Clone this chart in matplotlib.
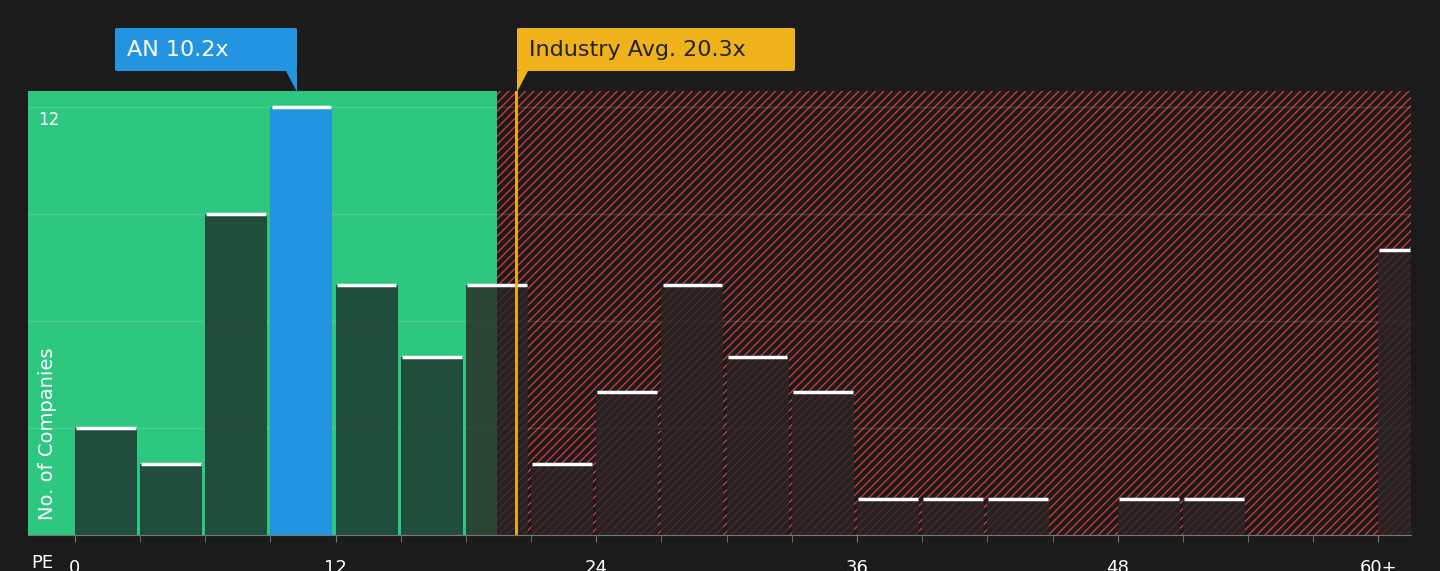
import matplotlib
matplotlib.use("Agg")
import matplotlib.pyplot as plt
from matplotlib.patches import FancyBboxPatch, Polygon

bin_starts = [0,3,6,9,12,15,18,21,24,27,30,33,36,39,42,45,48,51,54,57,60]
counts     = [3,2,9,12,7,5,7,2,4,7,5,4,1,1,1,0,1,1,0,0,8]
tick_vals = [0,12,24,36,48,60]
tick_labels = ["0","12","24","36","48","60+"]
company_pe = 10.2
industry_pe = 20.3
fair_edge = 19.45

BG = "#1b1b1b"
fig = plt.figure(figsize=(14.4,5.71), dpi=100, facecolor=BG)
ax = fig.add_axes([28/1440, 1-535/571, (1411-28)/1440, (535-91)/571])
ax.set_facecolor(BG)
xmin, xmax, ymax = -2.16, 61.5, 12.45
ax.set_xlim(xmin, xmax); ax.set_ylim(0, ymax)

ax.axvspan(xmin, fair_edge, color="#2ec77f", zorder=0)
ax.axvspan(fair_edge, xmax, facecolor=BG, edgecolor="#c9393e", hatch="////", linewidth=0, zorder=0)
for y in [3,6,9,12]:
    ax.axhline(y, color="white", alpha=0.12, lw=1, zorder=1)

for s, c in zip(bin_starts, counts):
    if c == 0: continue
    w = 1.5 if s == 60 else 2.85
    x0 = s if s < 60 else 60
    if s == 9:
        col, a = "#2394e0", 1
    elif s < 18:
        col, a = "#21493a", 0.97
    else:
        col, a = "#2a2424", 0.8
    ax.bar(x0, c, width=w, align="edge", color=col, alpha=a, zorder=2)
    ax.plot([x0+0.05, x0+w-0.05], [c, c], color="white", lw=2.5, zorder=3, solid_capstyle="butt")

ax.axvline(industry_pe, color="#f0b21b", lw=2, zorder=4)

ax.set_xticks(tick_vals)
ax.set_xticks([3*i for i in range(21)], minor=True)
ax.set_xticklabels(tick_labels, color="white", fontsize=13)
ax.tick_params(axis="x", which="both", colors="#777777", length=5, labelcolor="white", pad=12)
ax.set_yticks([])
for sp in ["top","right","left"]:
    ax.spines[sp].set_visible(False)
ax.spines["bottom"].set_color("#777777")

fig.text(42/1440, 1-563/571, "PE", color="white", fontsize=13, ha="center", va="center")
fig.text(38/1440, 1-120/571, "12", color="white", fontsize=12, va="center")
fig.text(48/1440, 1-520/571, "No. of Companies", color="white", fontsize=14, rotation=90, ha="center", va="bottom")

def label(x0, x1, text, fc, tc):
    b = FancyBboxPatch((x0/1440, 1-71/571), (x1-x0)/1440, 43/571, boxstyle="round,pad=0,rounding_size=0.002",
                       transform=fig.transFigure, fc=fc, ec="none")
    fig.add_artist(b)
    fig.text((x0+12)/1440, 1-50/571, text, color=tc, fontsize=16, va="center")
label(115, 297, "AN 10.2x", "#2394e0", "white")
fig.add_artist(Polygon([(286/1440,1-71/571),(297/1440,1-71/571),(297/1440,1-92/571)], closed=True, transform=fig.transFigure, fc="#2394e0", ec="none"))
label(517, 795, "Industry Avg. 20.3x", "#f0b21b", "#222222")
fig.add_artist(Polygon([(517/1440,1-71/571),(528/1440,1-71/571),(517/1440,1-92/571)], closed=True, transform=fig.transFigure, fc="#f0b21b", ec="none"))

fig.savefig("out.png", dpi=100, facecolor=BG)
